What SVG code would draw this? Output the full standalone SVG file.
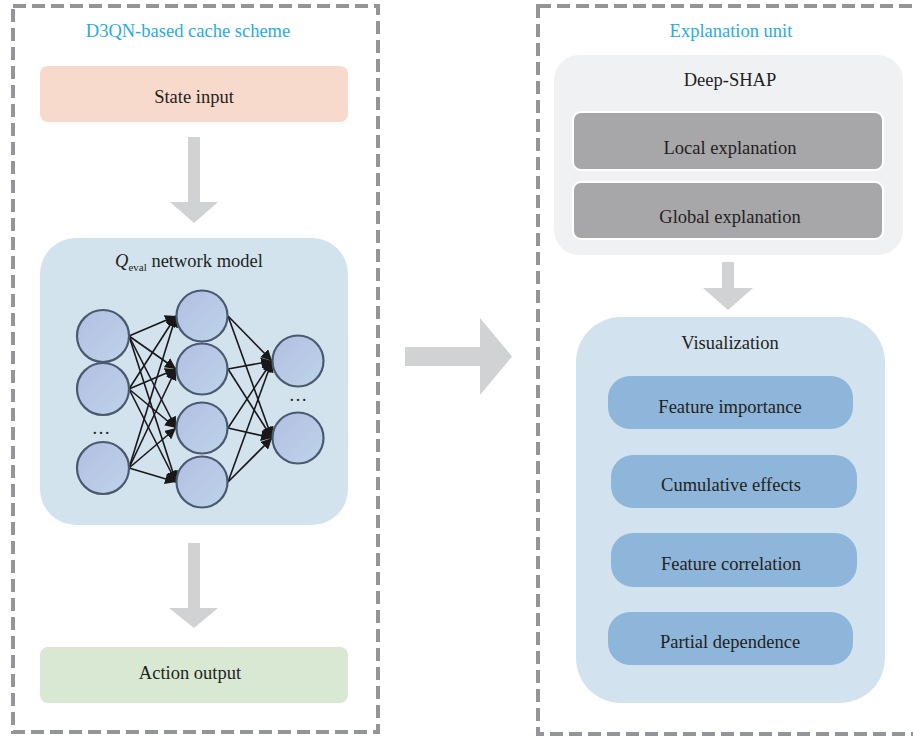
<svg xmlns="http://www.w3.org/2000/svg" width="913" height="740" viewBox="0 0 913 740">
<defs>
<linearGradient id="neu" x1="0" y1="0" x2="1" y2="1">
<stop offset="0" stop-color="#B3BEE2"/>
<stop offset="1" stop-color="#BDD4EA"/>
</linearGradient>
<marker id="ah" viewBox="0 0 10 10" refX="10" refY="5" markerWidth="11" markerHeight="11" markerUnits="userSpaceOnUse" orient="auto">
<path d="M0,0 L10,5 L0,10 z" fill="#1A1718"/>
</marker>
<style>
.frame{fill:none;stroke:#939598;stroke-width:4;stroke-dasharray:13 6}
.t{font-family:"Liberation Serif","Times New Roman",serif;font-size:18.5px;fill:#231F20;text-anchor:middle}
.title{font-family:"Liberation Serif","Times New Roman",serif;font-size:18.5px;fill:#29ABE2;text-anchor:middle}
.neu{fill:url(#neu);stroke:#4A5A6E;stroke-width:2.2}
.edge{stroke:#1A1718;stroke-width:1.6;fill:none;marker-end:url(#ah)}
.bigarrow{fill:#D1D2D4}
</style>
</defs>
<rect width="913" height="740" fill="#FFFFFF"/>

<g id="frame-left">
<rect class="frame" x="13" y="6" width="365" height="726"/>
<text class="title" x="188" y="37">D3QN-based cache scheme</text>
</g>
<g id="frame-right">
<rect class="frame" x="538" y="6" width="380" height="728"/>
<text class="title" x="731" y="37">Explanation unit</text>
</g>

<g id="state-input">
<rect x="40" y="66" width="308" height="56" rx="8" fill="#F8DACD"/>
<text class="t" x="194" y="103">State input</text>
</g>

<g id="network-model">
<rect x="40" y="238" width="308" height="287" rx="36" fill="#D2E3EE"/>
<text class="t" x="189" y="267"><tspan font-style="italic">Q</tspan><tspan font-size="11" dy="4">eval</tspan><tspan dy="-4"> network model</tspan></text>
</g>

<g id="connectors">
<path class="bigarrow" d="M188,137 H200 V202 H218 L194,223 L170,202 H188 Z"/>
<path class="bigarrow" d="M188,543 H200 V608 H218 L194,628 L169,608 H188 Z"/>
<path class="bigarrow" d="M722,262 H734 V288 H753 L728,310 L703,288 H722 Z"/>
<path class="bigarrow" d="M405,347 H480 V318 L512,356.5 L480,395 V366 H405 Z"/>
<g id="nn-edges">
<line class="edge" x1="129" y1="336" x2="176" y2="316"/>
<line class="edge" x1="129" y1="336" x2="176" y2="369"/>
<line class="edge" x1="129" y1="336" x2="176" y2="428"/>
<line class="edge" x1="129" y1="336" x2="176" y2="482"/>
<line class="edge" x1="129" y1="389" x2="176" y2="316"/>
<line class="edge" x1="129" y1="389" x2="176" y2="369"/>
<line class="edge" x1="129" y1="389" x2="176" y2="428"/>
<line class="edge" x1="129" y1="389" x2="176" y2="482"/>
<line class="edge" x1="129" y1="468" x2="176" y2="316"/>
<line class="edge" x1="129" y1="468" x2="176" y2="369"/>
<line class="edge" x1="129" y1="468" x2="176" y2="428"/>
<line class="edge" x1="129" y1="468" x2="176" y2="482"/>
<line class="edge" x1="228" y1="316" x2="272" y2="361"/>
<line class="edge" x1="228" y1="316" x2="272" y2="438"/>
<line class="edge" x1="228" y1="369" x2="272" y2="361"/>
<line class="edge" x1="228" y1="369" x2="272" y2="438"/>
<line class="edge" x1="228" y1="428" x2="272" y2="361"/>
<line class="edge" x1="228" y1="428" x2="272" y2="438"/>
<line class="edge" x1="228" y1="482" x2="272" y2="361"/>
<line class="edge" x1="228" y1="482" x2="272" y2="438"/>
</g>
</g>

<g id="nn-layer1">
<circle class="neu" cx="103" cy="336" r="26"/>
<circle class="neu" cx="103" cy="389" r="26"/>
<text class="t" x="101" y="434" font-size="16">…</text>
<circle class="neu" cx="103" cy="468" r="26"/>
</g>
<g id="nn-layer2">
<circle class="neu" cx="202" cy="316" r="25.5"/>
<circle class="neu" cx="202" cy="369" r="25.5"/>
<circle class="neu" cx="202" cy="428" r="25.5"/>
<circle class="neu" cx="202" cy="482" r="25.5"/>
</g>
<g id="nn-layer3">
<circle class="neu" cx="298" cy="361" r="25.5"/>
<text class="t" x="298" y="401" font-size="16">…</text>
<circle class="neu" cx="298" cy="438" r="25.5"/>
</g>

<g id="action-output">
<rect x="40" y="647" width="308" height="56" rx="8" fill="#D8E8D3"/>
<text class="t" x="190" y="679">Action output</text>
</g>

<g id="deep-shap">
<rect x="554" y="55" width="349" height="200" rx="25" fill="#F0F1F3"/>
<text class="t" x="730" y="86">Deep-SHAP</text>
</g>
<g id="local-explanation">
<rect x="573" y="112" width="310" height="58" rx="8" fill="#A7A6A9" stroke="#FFFFFF" stroke-width="2"/>
<text class="t" x="730" y="154">Local explanation</text>
</g>
<g id="global-explanation">
<rect x="573" y="182" width="310" height="57" rx="8" fill="#A7A6A9" stroke="#FFFFFF" stroke-width="2"/>
<text class="t" x="730" y="223">Global explanation</text>
</g>

<g id="visualization">
<rect x="576" y="317" width="309" height="386" rx="45" fill="#D2E2EE"/>
<text class="t" x="730" y="349">Visualization</text>
</g>
<g id="feature-importance">
<rect x="608" y="376" width="245" height="53" rx="22" fill="#8EB5DA"/>
<text class="t" x="730" y="413">Feature importance</text>
</g>
<g id="cumulative-effects">
<rect x="611" y="455" width="246" height="53" rx="22" fill="#8EB5DA"/>
<text class="t" x="731" y="491">Cumulative effects</text>
</g>
<g id="feature-correlation">
<rect x="611" y="533" width="246" height="54" rx="22" fill="#8EB5DA"/>
<text class="t" x="731" y="570">Feature correlation</text>
</g>
<g id="partial-dependence">
<rect x="608" y="612" width="245" height="53" rx="22" fill="#8EB5DA"/>
<text class="t" x="730" y="648">Partial dependence</text>
</g>
</svg>
